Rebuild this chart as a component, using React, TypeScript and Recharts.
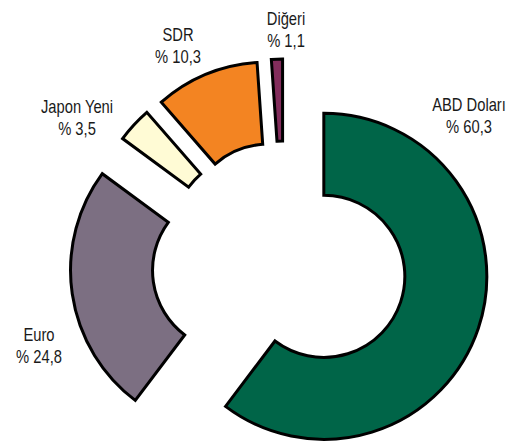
import React from 'react';
import { PieChart, Pie, Cell } from 'recharts';

const categories = ['ABD Doları', 'Euro', 'Japon Yeni', 'SDR', 'Diğeri'];
const shares = [60.3, 24.8, 3.5, 10.3, 1.1];

// styles / layout (not data)
const colors = ['#006548', '#7C6F82', '#FFFBD5', '#F38422', '#832D5C'];
const explode = [42, 51, 41, 41, 41];
const labelAnchors = [
  [469, 111],
  [39, 341],
  [77, 113],
  [178, 41],
  [286, 25],
];

const W = 528;
const H = 443;
const CX = 284;
const CY = 263;
const R_OUT = 163;
const R_IN = 81;
const START = 90;
const END = -270;
const FONT = "'Liberation Sans', Arial, sans-serif";

const rows = categories.map((name, i) => ({ name, value: shares[i] }));
const total = shares.reduce((a, b) => a + b, 0);

const midAngles: number[] = [];
{
  let cum = 0;
  shares.forEach((v) => {
    const s = START + ((END - START) * cum) / total;
    const e = START + ((END - START) * (cum + v)) / total;
    midAngles.push((s + e) / 2);
    cum += v;
  });
}

const fmt = (v: number) => '% ' + v.toFixed(1).replace('.', ',');

export default function App() {
  return (
    <div style={{ position: 'absolute', left: 0, top: 0, width: W, height: H, background: '#fff' }}>
      <PieChart width={W} height={H} margin={{ top: 0, right: 0, bottom: 0, left: 0 }}>
        {categories.map((_, i) => {
          const rad = (midAngles[i] * Math.PI) / 180;
          const cx = CX + explode[i] * Math.cos(rad);
          const cy = CY - explode[i] * Math.sin(rad);
          return (
            <Pie
              key={'pie' + i}
              data={rows}
              dataKey="value"
              nameKey="name"
              cx={cx}
              cy={cy}
              innerRadius={R_IN}
              outerRadius={R_OUT}
              startAngle={START}
              endAngle={END}
              isAnimationActive={false}
              labelLine={false}
              label={false}
            >
              {rows.map((_, j) => (
                <Cell
                  key={'c' + j}
                  fill={j === i ? colors[j] : 'none'}
                  stroke={j === i ? '#000' : 'none'}
                  strokeWidth={j === i ? 3 : 0}
                  strokeLinejoin="miter"
                />
              ))}
            </Pie>
          );
        })}
        {categories.map((name, i) => (
          <g key={'lbl' + i} transform={`translate(${labelAnchors[i][0]},${labelAnchors[i][1]}) scale(0.82,1)`}>
            <text x={0} y={0} textAnchor="middle" fontFamily={FONT} fontSize={18} fill="#1a1a1a">
              <tspan x={0} y={0}>{name}</tspan>
              <tspan x={0} y={22}>{fmt(shares[i])}</tspan>
            </text>
          </g>
        ))}
      </PieChart>
    </div>
  );
}
